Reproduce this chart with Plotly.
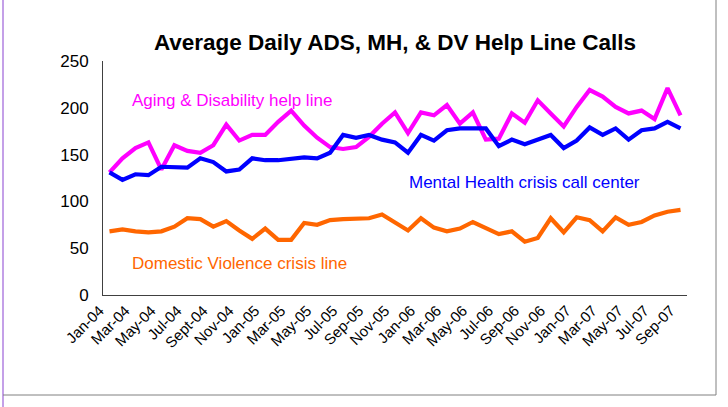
import plotly.graph_objects as go

months = ["Jan-04","Feb-04","Mar-04","Apr-04","May-04","Jun-04","Jul-04","Aug-04","Sept-04","Oct-04","Nov-04","Dec-04",
          "Jan-05","Feb-05","Mar-05","Apr-05","May-05","Jun-05","Jul-05","Aug-05","Sep-05","Oct-05","Nov-05","Dec-05",
          "Jan-06","Feb-06","Mar-06","Apr-06","May-06","Jun-06","Jul-06","Aug-06","Sep-06","Oct-06","Nov-06","Dec-06",
          "Jan-07","Feb-07","Mar-07","Apr-07","May-07","Jun-07","Jul-07","Aug-07","Sep-07"]

aging = [131, 146, 157, 163, 134, 160, 154, 152, 160, 182, 165, 171, 171, 185, 197, 181, 168, 158, 156, 158, 169, 183, 195,
         173, 195, 192, 203, 183, 195, 166, 167, 194, 184, 208, 194, 180, 201, 219, 212, 201, 194, 197, 188, 221, 192]
mental = [131, 123, 129, 128, 137, 137, 136, 146, 142, 132, 134, 146, 144, 144, 145, 147, 146, 152, 171, 168, 171, 166, 163,
          152, 171, 165, 176, 178, 178, 178, 159, 166, 161, 166, 171, 157, 165, 179, 171, 178, 166, 176, 178, 185, 178]
domestic = [68, 70, 68, 67, 68, 73, 82, 81, 73, 79, 69, 60, 71, 59, 59, 77, 75, 80, 81, 81, 82, 86, 77,
            69, 82, 72, 68, 71, 78, 72, 65, 68, 57, 61, 82, 67, 83, 80, 68, 83, 75, 78, 85, 89, 91]

tick_idx = list(range(0, len(months), 2))
tick_text = [months[i] for i in tick_idx]

W, H = 728, 407
L, R, T, B = 103, 41, 61, 112
PW, PH = W - L - R, H - T - B

def px(x):
    return (x - L) / PW

def py(y):
    return (H - B - y) / PH

FONT = "Liberation Sans, Arial, sans-serif"
x = list(range(len(months)))

fig = go.Figure()
fig.add_trace(go.Scatter(x=x, y=aging, mode="lines", line=dict(color="#FF00FF", width=4.2), name="Aging & Disability help line"))
fig.add_trace(go.Scatter(x=x, y=mental, mode="lines", line=dict(color="#0000FF", width=4.2), name="Mental Health crisis call center"))
fig.add_trace(go.Scatter(x=x, y=domestic, mode="lines", line=dict(color="#FF6600", width=4.2), name="Domestic Violence crisis line"))

fig.update_layout(
    width=W, height=H,
    margin=dict(l=L, r=R, t=T, b=B),
    paper_bgcolor="white", plot_bgcolor="white",
    showlegend=False,
    font=dict(family=FONT, color="black"),
    title=dict(text="<b>Average Daily ADS, MH, & DV Help Line Calls</b>",
               x=px(395), xref="paper", xanchor="center",
               y=1 - 42 / H, yref="container", yanchor="middle",
               font=dict(size=22.5, family=FONT, color="black")),
    xaxis=dict(range=[-0.5, len(months) - 0.5], tickmode="array", tickvals=tick_idx, ticktext=tick_text,
               tickangle=-45, showgrid=False, zeroline=False, showline=True, linecolor="#404040", linewidth=1,
               ticks="", ticklabelshift=-10, tickfont=dict(size=15, family=FONT, color="black")),
    yaxis=dict(range=[0, 250], dtick=50, showgrid=False, zeroline=False, showline=True, linecolor="#404040",
               linewidth=1, ticks="", ticklabelstandoff=10, tickfont=dict(size=17, family=FONT, color="black")),
)

fig.add_annotation(text="Aging & Disability help line", xref="paper", yref="paper", x=px(130), y=py(101),
                   xanchor="left", yanchor="middle", showarrow=False, font=dict(size=17, color="#FF00FF", family=FONT))
fig.add_annotation(text="Mental Health crisis call center", xref="paper", yref="paper", x=px(407), y=py(182),
                   xanchor="left", yanchor="middle", showarrow=False, font=dict(size=17, color="#0000FF", family=FONT))
fig.add_annotation(text="Domestic Violence crisis line", xref="paper", yref="paper", x=px(130), y=py(263),
                   xanchor="left", yanchor="middle", showarrow=False, font=dict(size=17, color="#FF6600", family=FONT))

# frame lines around the chart area
fig.add_shape(type="line", xref="paper", yref="paper", x0=px(3), x1=px(3), y0=py(0), y1=py(H),
              line=dict(color="#B080E0", width=1.5))
fig.add_shape(type="line", xref="paper", yref="paper", x0=px(716), x1=px(716), y0=py(0), y1=py(395),
              line=dict(color="#808080", width=1))
fig.add_shape(type="line", xref="paper", yref="paper", x0=px(3), x1=px(716), y0=py(395), y1=py(395),
              line=dict(color="#808080", width=1))

fig.write_html("out.html", config={"displayModeBar": False},
               post_script="document.body.style.margin='0px';")
